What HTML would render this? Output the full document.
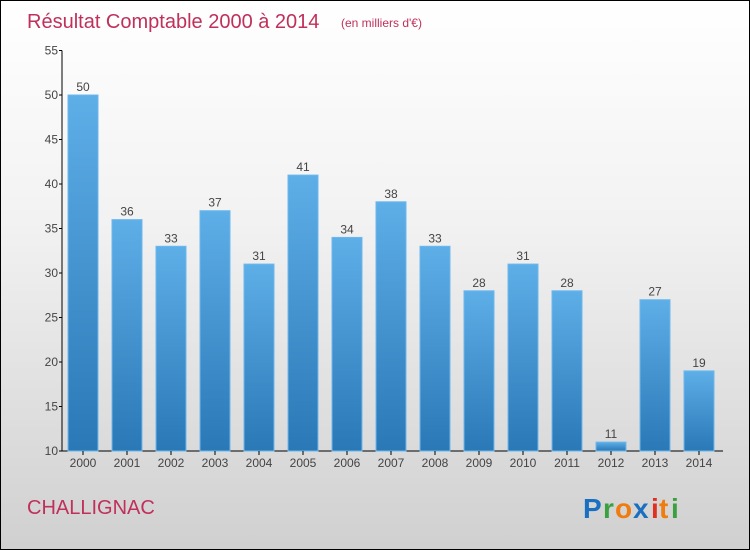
<!DOCTYPE html>
<html><head><meta charset="utf-8"><style>
body{margin:0}
#c{position:relative;width:748px;height:548px;border:1px solid #000;background:linear-gradient(#ffffff 0%,#f2f2f2 40%,#d0d0d0 100%);overflow:hidden;font-family:"Liberation Sans",sans-serif}
</style></head><body>
<div id="c">
<svg id="s" width="748" height="548" xmlns="http://www.w3.org/2000/svg">
<defs><linearGradient id="g" x1="0" y1="0" x2="0" y2="1"><stop offset="0" stop-color="#5eaee8"/><stop offset="1" stop-color="#2a78b6"/></linearGradient></defs>
<text x="26" y="27" font-size="20" fill="#c0305a">Résultat Comptable 2000 à 2014</text>
<text x="340" y="26" font-size="12" fill="#c0305a">(en milliers d'€)</text>
<text x="26" y="513" font-size="20" fill="#c0305a">CHALLIGNAC</text>
<g font-size="28" font-weight="bold" font-family="Liberation Sans,sans-serif">
<text x="582" y="517" fill="#1a6fc0">P</text><text x="602" y="517" fill="#3aa040">r</text><text x="614" y="517" fill="#f07c10">o</text><text x="632" y="517" fill="#1a6fc0">x</text><text x="650" y="517" fill="#e03020">i</text><text x="658" y="517" fill="#f07c10">t</text><text x="670" y="517" fill="#3aa040">i</text>
</g>
<g id="plot"></g>
</svg></div>
<script>
const years=["2000","2001","2002","2003","2004","2005","2006","2007","2008","2009","2010","2011","2012","2013","2014"];
const values=[50,36,33,37,31,41,34,38,33,28,31,28,11,27,19];
const yTicks=[10,15,20,25,30,35,40,45,50,55];
const NS="http://www.w3.org/2000/svg";
const p=document.getElementById('plot');
const y=v=>450-(v-10)*8.9;
const x=i=>67+i*44;
function mk(t,a){const e=document.createElementNS(NS,t);for(const k in a)e.setAttribute(k,a[k]);p.appendChild(e);return e;}
let ax=mk('line',{x1:61,y1:y(55),x2:61,y2:450,stroke:'#000'});


let bx=mk('line',{x1:61,y1:450,x2:722,y2:450,stroke:'#000'});


yTicks.forEach(v=>{
 let t=mk('line',{x1:58,y1:y(v),x2:61,y2:y(v),stroke:'#000'});
 
 
 let l=mk('text',{x:57,y:y(v)+4,'font-size':12,fill:'#444','text-anchor':'end'});l.textContent=v;
 
 
});
values.forEach((v,i)=>{
 let r=mk('rect',{x:x(i),y:y(v),width:30,height:450-y(v),fill:'url(#g)',stroke:'#6cb8ee','stroke-width':1});
 
 
 let l=mk('text',{x:x(i)+15,y:y(v)-4,'font-size':12,fill:'#444','text-anchor':'middle'});l.textContent=v;
 
 
 let t=mk('line',{x1:x(i)+15,y1:450,x2:x(i)+15,y2:454,stroke:'#000'});
 
 
 let xl=mk('text',{x:x(i)+15,y:466,'font-size':12,fill:'#444','text-anchor':'middle'});xl.textContent=years[i];
 
 
});
</script>
</body></html>
